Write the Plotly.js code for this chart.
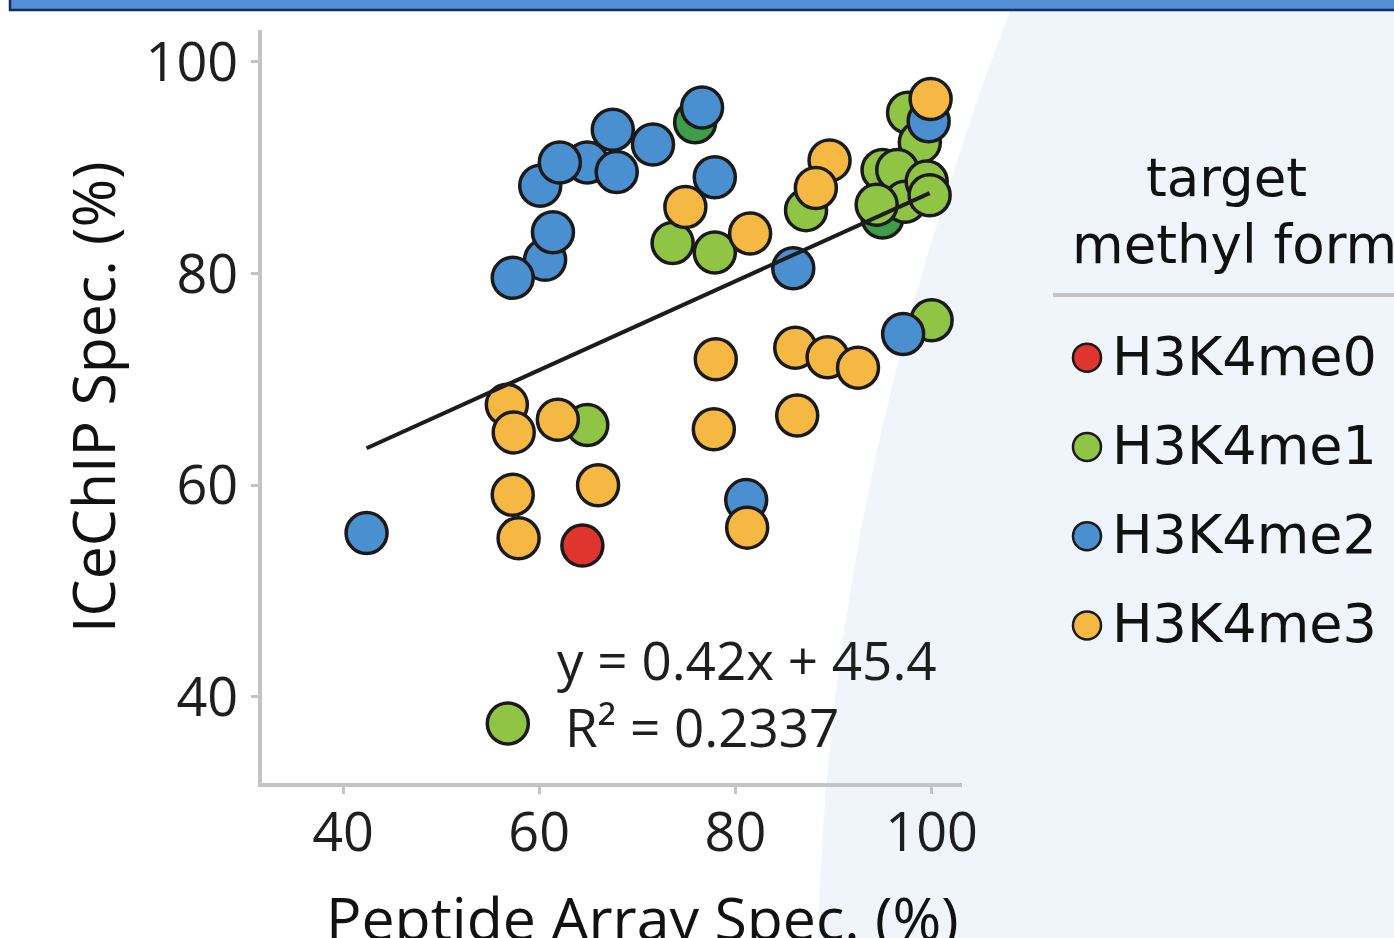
<!DOCTYPE html>
<html>
<head>
<meta charset="utf-8">
<script src="https://cdn.plot.ly/plotly-3.0.1.min.js"></script>
<style>html,body{margin:0;padding:0;background:#fff;}#chart{width:1394px;height:938px;}</style>
</head>
<body>
<div id="chart"></div>
<script>
// ---- data ----
const categories = ['H3K4me0', 'H3K4me1', 'H3K4me2', 'H3K4me3'];
const tickValues = [40, 60, 80, 100];

const me0X = [64.4];
const me0Y = [54.3];

const me1DarkX = [75.9, 95.0];
const me1DarkY = [94.3, 85.3];

const me1X = [64.9, 73.6, 77.9, 87.2, 97.6, 98.8, 95.0, 96.5, 97.3, 99.5, 94.4, 99.8, 100.0];
const me1Y = [65.7, 82.9, 82.0, 86.0, 95.2, 92.4, 89.8, 89.8, 86.8, 88.7, 86.5, 87.4, 75.6];

const me2X = [42.4, 60.6, 57.3, 61.4, 64.9, 60.1, 62.1, 67.5, 67.9, 71.6, 76.6, 77.9, 85.9, 81.1, 97.1, 99.7];
const me2Y = [55.5, 81.3, 79.6, 83.9, 90.5, 88.3, 90.5, 93.6, 89.6, 92.2, 95.7, 89.1, 80.5, 58.6, 74.3, 94.4];

const me3X = [56.7, 57.4, 61.9, 57.3, 57.9, 66.0, 74.9, 81.5, 89.6, 88.2, 78.0, 86.1, 89.4, 92.5, 77.8, 86.3, 81.2, 99.9];
const me3Y = [67.6, 65.0, 66.2, 59.1, 55.0, 60.0, 86.3, 83.8, 90.7, 88.1, 71.9, 73.0, 72.1, 71.1, 65.3, 66.6, 56.0, 96.5];

const fitX = [42.4, 99.8];
const fitY = [63.5, 87.6];
const fitKeyX = [56.8];
const fitKeyY = [37.5];
const fitEquation = 'y = 0.42x + 45.4';
const fitR2 = 'R² = 0.2337';

// ---- styling ----
const W = 1394, H = 938;
const px = v => v / W;
const py = v => 1 - v / H;
const colors = {me0: '#e0342f', me1: '#8fc445', me1dark: '#3f9c48', me2: '#4a8fcf', me3: '#f4b843'};
const edge = {color: '#1a1a1a', width: 3.5};
const MS = 41;
const axisGrey = '#c3c3c8';
const tickFont = {family: 'Open Sans, sans-serif', size: 54, color: '#1e1e1e'};
const titleFont = {family: 'Open Sans, sans-serif', size: 59, color: '#111'};
const fitFont = {family: 'Open Sans, sans-serif', size: 53, color: '#1e1e1e'};
const legFont = {family: 'DejaVu Sans, sans-serif', size: 54, color: '#111'};

function pts(x, y, color, name) {
  return {type: 'scatter', mode: 'markers', x: x, y: y, name: name, showlegend: false,
    hoverinfo: 'skip', cliponaxis: false,
    marker: {size: MS, color: color, line: edge}};
}

const traces = [
  pts(me1DarkX, me1DarkY, colors.me1dark, 'H3K4me1'),
  pts(me1X, me1Y, colors.me1, 'H3K4me1'),
  pts(me2X, me2Y, colors.me2, 'H3K4me2'),
  pts(me3X, me3Y, colors.me3, 'H3K4me3'),
  pts(me0X, me0Y, colors.me0, 'H3K4me0'),
  {type: 'scatter', mode: 'lines', x: fitX, y: fitY, showlegend: false, hoverinfo: 'skip',
    line: {color: '#1c1c1c', width: 4}},
  pts(fitKeyX, fitKeyY, colors.me1, 'fit'),
  // custom legend: symbols
  {type: 'scatter', mode: 'markers', xaxis: 'x2', yaxis: 'y2',
    x: categories.map(() => 34), y: categories.map((c, i) => i), cliponaxis: false,
    marker: {size: 28, color: [colors.me0, colors.me1, colors.me2, colors.me3],
      line: {color: '#1a1a1a', width: 2.5}},
    showlegend: false, hoverinfo: 'skip'},
  // custom legend: labels
  {type: 'scatter', mode: 'text', xaxis: 'x2', yaxis: 'y2',
    x: categories.map(() => 59), y: categories.map((c, i) => i + 0.04),
    text: categories, textposition: 'middle right', cliponaxis: false,
    textfont: legFont, showlegend: false, hoverinfo: 'skip'}
];

const layout = {
  width: W, height: H,
  margin: {l: 0, r: 0, t: 0, b: 0},
  paper_bgcolor: '#ffffff', plot_bgcolor: 'rgba(0,0,0,0)',
  showlegend: false,
  xaxis: {domain: [px(262), px(962)], range: [31.74, 103.1], tickvals: tickValues,
    showline: true, linecolor: axisGrey, linewidth: 4, ticks: 'outside', ticklen: 7,
    tickwidth: 3, tickcolor: axisGrey, showgrid: false, zeroline: false,
    tickfont: tickFont, ticklabelstandoff: -8, anchor: 'y'},
  yaxis: {domain: [py(783), py(30)], range: [31.87, 103.02], tickvals: tickValues,
    showline: true, linecolor: axisGrey, linewidth: 4, ticks: 'outside', ticklen: 7,
    tickwidth: 3, tickcolor: axisGrey, showgrid: false, zeroline: false,
    tickfont: tickFont, ticklabelstandoff: 2, anchor: 'x'},
  xaxis2: {domain: [px(1053), 1], range: [0, 341], visible: false, fixedrange: true, anchor: 'y2'},
  yaxis2: {domain: [py(670), py(313)], range: [3.5, -0.5], visible: false, fixedrange: true, anchor: 'x2'},
  shapes: [
    {type: 'path', xref: 'paper', yref: 'paper', layer: 'below',
      path: `M ${px(1014)},${py(0)} C ${px(900)},${py(300)} ${px(826)},${py(600)} ${px(818)},${py(940)} L ${px(1400)},${py(940)} L ${px(1400)},${py(0)} Z`,
      fillcolor: '#f0f5fb', line: {width: 0}},
    {type: 'rect', xref: 'paper', yref: 'paper', x0: px(10), x1: px(1400), y0: py(10), y1: py(-4),
      fillcolor: '#558fd6', line: {color: '#0f2f66', width: 2.5}},
    {type: 'line', xref: 'paper', yref: 'paper', x0: px(1053), x1: px(1394), y0: py(295), y1: py(295),
      line: {color: '#c3c3c3', width: 4}}
  ],
  annotations: [
    {xref: 'paper', yref: 'paper', x: px(92), y: py(397), text: 'ICeChIP Spec. (%)', textangle: -90,
      showarrow: false, xanchor: 'center', yanchor: 'middle', font: titleFont},
    {xref: 'paper', yref: 'paper', x: px(642), y: py(917), text: 'Peptide Array Spec. (%)',
      showarrow: false, xanchor: 'center', yanchor: 'middle', font: titleFont},
    {xref: 'paper', yref: 'paper', x: px(555), y: py(659), text: fitEquation,
      showarrow: false, xanchor: 'left', yanchor: 'middle', font: fitFont},
    {xref: 'paper', yref: 'paper', x: px(563), y: py(726), text: fitR2,
      showarrow: false, xanchor: 'left', yanchor: 'middle', font: fitFont},
    {xref: 'paper', yref: 'paper', x: px(1226), y: py(177), text: 'target',
      showarrow: false, xanchor: 'center', yanchor: 'middle', font: {family: 'DejaVu Sans, sans-serif', size: 53, color: '#111'}},
    {xref: 'paper', yref: 'paper', x: px(1070), y: py(245), text: 'methyl form',
      showarrow: false, xanchor: 'left', yanchor: 'middle', font: {family: 'DejaVu Sans, sans-serif', size: 53, color: '#111'}}
  ]
};

Plotly.newPlot('chart', traces, layout, {displayModeBar: false, staticPlot: true});
</script>
</body>
</html>
